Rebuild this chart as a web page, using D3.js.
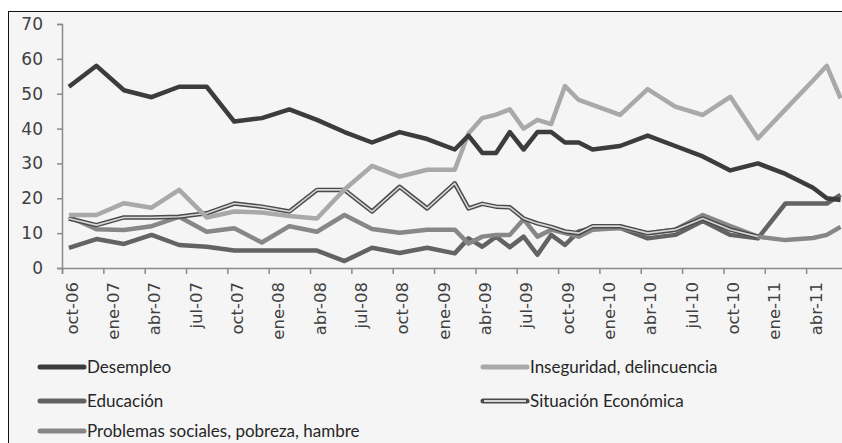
<!DOCTYPE html>
<html>
<head>
<meta charset="utf-8">
<script src="https://cdn.jsdelivr.net/npm/d3@7"></script>
<style>
  body { margin: 0; background: #fff; }
  .ytick text { font-family: "DejaVu Sans", sans-serif; font-size: 17px; fill: #404040; }
  .xlab { font-family: "DejaVu Sans", sans-serif; font-size: 16.5px; fill: #404040; }
  .legend text { font-family: Lato, sans-serif; font-size: 17px; fill: #262626; }
</style>
</head>
<body>
<svg id="chart" width="842" height="443"></svg>
<script>
// months since oct-06 for each survey point
let meses = ["2006-10","2006-12","2007-02","2007-04","2007-06","2007-08","2007-10","2007-12",
  "2008-02","2008-04","2008-06","2008-08","2008-10","2008-12","2009-02","2009-03","2009-04",
  "2009-05","2009-06","2009-07","2009-08","2009-09","2009-10","2009-11","2009-12","2010-02",
  "2010-04","2010-06","2010-08","2010-10","2010-12","2011-02","2011-04","2011-05","2011-06"];

let desempleo = [52,58,51,49,52,52,42,43,45.5,42.5,39,36,39,37,34,
  38,33,33,39,34,39,39,36,36,34,35,38,35,32,28,30,27,23,20,19.5];
let inseguridad = [15.2,15.2,18.6,17.3,22.4,14.5,16.2,15.9,14.9,14.2,22.5,29.3,26.2,28.2,28.2,
  38.6,43,44,45.5,40,42.5,41.3,52.2,48.2,46.8,43.9,51.3,46.3,43.9,49.1,37.2,45.5,53.8,58,48.7];
let educacion = [5.8,8.3,6.9,9.5,6.6,6.1,5,5,5,5,2,5.8,4.3,5.8,4.2,
  8.5,6.1,9,6,9,3.8,9.5,6.6,10.5,11.5,11.5,8.5,9.5,13.5,9.5,8.5,18.5,18.5,18.5,21];
let situacion = [14.2,12.3,14.5,14.5,14.7,15.7,18.5,17.6,16.2,22.4,22.4,16.2,23.3,17.1,24.3,
  17.1,18.4,17.6,17.4,14.2,12.8,11.8,10.5,10,12,12,10,11,14.2,11,9,null,null,null,null];
let problemas = [14.7,11.1,10.9,12,14.7,10.4,11.4,7.3,12,10.4,15.2,11.2,10.1,11,11,
  7,9,9.5,9.5,14,9,11,10,9,11,11.5,10,11,15.2,12,9,8,8.6,9.5,11.8];

let etiquetasX = ["oct-06","ene-07","abr-07","jul-07","oct-07","ene-08","abr-08","jul-08",
  "oct-08","ene-09","abr-09","jul-09","oct-09","ene-10","abr-10","jul-10","oct-10","ene-11","abr-11"];
let ticksY = [0,10,20,30,40,50,60,70];

let series = [
  { name: "Desempleo", values: desempleo },
  { name: "Educación", values: educacion },
  { name: "Problemas sociales, pobreza, hambre", values: problemas },
  { name: "Inseguridad, delincuencia", values: inseguridad },
  { name: "Situación Económica", values: situacion }
];

let estilos = {
  "Desempleo": { color: "#3c3c3c" },
  "Educación": { color: "#636363" },
  "Problemas sociales, pobreza, hambre": { color: "#878787" },
  "Inseguridad, delincuencia": { color: "#a9a9a9" },
  "Situación Económica": { color: "#4a4a4a", inner: "#d6d6d6" }
};

let monthIndex = (s) => {
  let [y, m] = s.split("-").map(Number);
  return (y - 2006) * 12 + (m - 10);
};
let mIdx = meses.map(monthIndex);

let svg = d3.select("#chart");

// frame
svg.append("rect")
  .attr("x", 8.5).attr("y", 11.5)
  .attr("width", 900).attr("height", 500)
  .attr("fill", "#f5f5f5")
  .attr("stroke", "#111").attr("stroke-width", 1);

let x = d3.scaleLinear().domain([-0.5, 57.5]).range([62, 62 + 58 * 13.78]);
let y = d3.scaleLinear().domain([0, 70]).range([268, 24]);

// y axis
let yAxis = svg.append("g")
  .attr("class", "ytick")
  .attr("transform", "translate(62,0)")
  .call(d3.axisLeft(y).tickValues(ticksY).tickSize(5).tickPadding(14));
yAxis.select(".domain").attr("stroke", "#8a8a8a").attr("stroke-width", 1.5);
yAxis.selectAll(".tick line").attr("stroke", "#8a8a8a").attr("stroke-width", 1.5);

// x axis: ticks between quarter groups, labels rotated
let xAxis = svg.append("g")
  .attr("transform", "translate(0,268)")
  .call(d3.axisBottom(x).tickValues(etiquetasX.map((d, i) => i * 3 - 0.5)).tickSize(6).tickFormat(""));
xAxis.select(".domain").attr("stroke", "#8a8a8a").attr("stroke-width", 1.5);
xAxis.selectAll(".tick line").attr("stroke", "#8a8a8a").attr("stroke-width", 1.5);

svg.append("g").selectAll("text")
  .data(etiquetasX)
  .enter()
  .append("text")
  .attr("class", "xlab")
  .attr("text-anchor", "end")
  .attr("dy", "0.35em")
  .attr("transform", (d, i) => "translate(" + (x(i * 3) + 3) + ",282) rotate(-90)")
  .text((d) => d);

// lines
let line = d3.line()
  .defined((d) => d[1] != null)
  .x((d) => x(d[0]))
  .y((d) => y(d[1]))
  .curve(d3.curveLinear);

let order = ["Educación", "Problemas sociales, pobreza, hambre", "Situación Económica", "Inseguridad, delincuencia", "Desempleo"];
order.forEach((name) => {
  let s = series.find((d) => d.name === name);
  let pts = s.values.map((v, i) => [mIdx[i], v]);
  let st = estilos[name];
  svg.append("path")
    .attr("d", line(pts))
    .attr("fill", "none")
    .attr("stroke", st.color)
    .attr("stroke-width", 4.5)
    .attr("stroke-linejoin", "round");
  if (st.inner) {
    svg.append("path")
      .attr("d", line(pts))
      .attr("fill", "none")
      .attr("stroke", st.inner)
      .attr("stroke-width", 1.6)
      .attr("stroke-linejoin", "round");
  }
});

// legend
let legendPos = [
  { name: "Desempleo", lx: 40, ly: 367 },
  { name: "Educación", lx: 40, ly: 401 },
  { name: "Problemas sociales, pobreza, hambre", lx: 40, ly: 431 },
  { name: "Inseguridad, delincuencia", lx: 483, ly: 367 },
  { name: "Situación Económica", lx: 483, ly: 401 }
];
let legend = svg.append("g").attr("class", "legend");
legendPos.forEach((p) => {
  let st = estilos[p.name];
  legend.append("line")
    .attr("x1", p.lx).attr("x2", p.lx + 44)
    .attr("y1", p.ly).attr("y2", p.ly)
    .attr("stroke", st.color).attr("stroke-width", 5)
    .attr("stroke-linecap", "round");
  if (st.inner) {
    legend.append("line")
      .attr("x1", p.lx + 1).attr("x2", p.lx + 43)
      .attr("y1", p.ly).attr("y2", p.ly)
      .attr("stroke", st.inner).attr("stroke-width", 1.8);
  }
  legend.append("text")
    .attr("x", p.lx + 47).attr("y", p.ly)
    .attr("dy", "0.35em")
    .text(p.name);
});
</script>
</body>
</html>
